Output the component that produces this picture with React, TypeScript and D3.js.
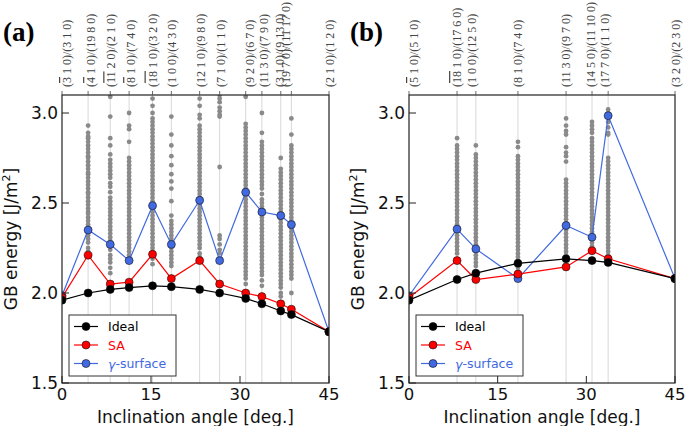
import React from "react";
import * as d3 from "d3";

// ---------- data ----------
const anglesA = [0, 4.40, 8.13, 11.31, 15.26, 18.43, 23.20, 26.57, 30.96, 33.69, 36.87, 38.66, 45];
const labelsA = [
  "({3} 1 0)/(3 1 0)", "({4} 1 0)/(19 8 0)", "({11} 2 0)/(2 1 0)", "({8} 1 0)/(7 4 0)",
  "({18} 1 0)/(3 2 0)", "(1 0 0)/(4 3 0)", "(12 1 0)/(9 8 0)", "(7 1 0)/(1 1 0)",
  "(9 2 0)/(6 7 0)", "(11 3 0)/(7 9 0)", "(3 1 0)/(9 13 0)", "(19 7 0)/(11 17 0)", "(2 1 0)/(1 2 0)",
];
const idealA = [1.96, 2.00, 2.02, 2.03, 2.04, 2.035, 2.02, 2.00, 1.97, 1.94, 1.90, 1.88, 1.785];
const saA = [1.975, 2.21, 2.05, 2.06, 2.215, 2.08, 2.18, 2.05, 2.00, 1.98, 1.94, 1.91, 1.785];
const gammaA = [1.985, 2.35, 2.27, 2.18, 2.485, 2.27, 2.515, 2.18, 2.56, 2.45, 2.43, 2.38, 1.785];

const scatterA1 = [2.93, 2.89, 2.87, 2.86, 2.84, 2.82, 2.80, 2.78, 2.76, 2.75, 2.73, 2.71, 2.69, 2.67, 2.66, 2.64, 2.62, 2.60, 2.58, 2.56, 2.55, 2.53, 2.51, 2.49, 2.47, 2.45, 2.44, 2.42, 2.40, 2.38, 2.36, 2.34, 2.32, 2.30, 2.28, 2.25, 2.23];
const scatterA2 = [3.09, 2.98, 2.86, 2.82, 2.77, 2.74, 2.72, 2.70, 2.68, 2.66, 2.64, 2.61, 2.59, 2.56, 2.53, 2.51, 2.49, 2.47, 2.45, 2.43, 2.41, 2.39, 2.37, 2.35, 2.33, 2.31, 2.29, 2.26, 2.24, 2.21, 2.19, 2.17, 2.14, 2.11];
const scatterA3 = [3.00, 2.93, 2.91, 2.84, 2.75, 2.73, 2.71, 2.69, 2.67, 2.65, 2.63, 2.61, 2.59, 2.57, 2.55, 2.53, 2.51, 2.49, 2.47, 2.45, 2.43, 2.41, 2.39, 2.37, 2.35, 2.33, 2.31, 2.29, 2.27, 2.25, 2.23, 2.21];
const scatterA4 = [3.08, 3.04, 3.00, 2.97, 2.95, 2.93, 2.91, 2.89, 2.87, 2.85, 2.83, 2.81, 2.79, 2.77, 2.75, 2.73, 2.71, 2.69, 2.67, 2.65, 2.63, 2.61, 2.59, 2.57, 2.55, 2.53, 2.51, 2.49, 2.47, 2.45, 2.43, 2.41, 2.39, 2.37, 2.35, 2.33, 2.31, 2.29, 2.27, 2.25, 2.23, 2.21, 2.19, 2.16];
const scatterA5 = [2.98, 2.88, 2.82, 2.76, 2.71, 2.66, 2.62, 2.58, 2.51, 2.43, 2.40, 2.38, 2.36, 2.34, 2.32, 2.30, 2.28, 2.25, 2.23, 2.21, 2.19, 2.17, 2.15];
const scatterA6 = [3.08, 3.04, 2.99, 2.97, 2.93, 2.91, 2.89, 2.87, 2.85, 2.83, 2.81, 2.79, 2.77, 2.75, 2.73, 2.71, 2.69, 2.67, 2.65, 2.63, 2.61, 2.59, 2.57, 2.55, 2.53, 2.51, 2.49, 2.47, 2.45, 2.43, 2.41, 2.39, 2.37, 2.35, 2.33, 2.31, 2.29, 2.27, 2.25, 2.22, 2.20];
const scatterA7 = [3.10, 3.08, 3.06, 3.03, 3.01, 2.99, 2.98, 2.70, 2.32, 2.30, 2.27, 2.24, 2.22, 2.19];
const scatterA8 = [3.09, 2.94, 2.92, 2.90, 2.88, 2.86, 2.84, 2.82, 2.80, 2.78, 2.76, 2.74, 2.72, 2.70, 2.68, 2.66, 2.64, 2.62, 2.60, 2.58, 2.56, 2.54, 2.52, 2.50, 2.48, 2.46, 2.44, 2.42, 2.40, 2.38, 2.36, 2.34, 2.32, 2.30, 2.28, 2.26, 2.24, 2.22, 2.20, 2.18, 2.16, 2.14, 2.12, 2.10, 2.08, 2.05];
const scatterA9 = [3.00, 2.89, 2.84, 2.82, 2.80, 2.78, 2.76, 2.74, 2.72, 2.70, 2.68, 2.66, 2.64, 2.62, 2.60, 2.58, 2.55, 2.52, 2.50, 2.48, 2.46, 2.44, 2.42, 2.40, 2.38, 2.36, 2.34, 2.32, 2.30, 2.28, 2.26, 2.24, 2.22, 2.20, 2.18, 2.16, 2.14, 2.12, 2.10, 2.07, 2.04];
const scatterA10 = [2.75, 2.69, 2.67, 2.65, 2.63, 2.61, 2.59, 2.57, 2.55, 2.53, 2.51, 2.49, 2.47, 2.45, 2.43, 2.41, 2.39, 2.37, 2.35, 2.33, 2.31, 2.29, 2.27, 2.25, 2.23, 2.21, 2.19, 2.17, 2.15, 2.13, 2.11, 2.09, 2.07, 2.05, 2.03, 2.00, 1.98];
const scatterA11 = [2.97, 2.88, 2.82, 2.80, 2.78, 2.76, 2.74, 2.72, 2.70, 2.68, 2.66, 2.64, 2.62, 2.60, 2.58, 2.56, 2.54, 2.52, 2.50, 2.48, 2.46, 2.44, 2.42, 2.40, 2.38, 2.36, 2.34, 2.32, 2.30, 2.28, 2.26, 2.24, 2.22, 2.20, 2.18, 2.16, 2.14, 2.12, 2.10, 2.08, 2.00];
const scatterA = [[], scatterA1, scatterA2, scatterA3, scatterA4, scatterA5, scatterA6, scatterA7, scatterA8, scatterA9, scatterA10, scatterA11, []];

const anglesB = [0, 8.13, 11.31, 18.43, 26.57, 30.96, 33.69, 45];
const labelsB = [
  "({5} 1 0)/(5 1 0)", "({18} 1 0)/(17 6 0)", "(1 0 0)/(12 5 0)", "(8 1 0)/(7 4 0)",
  "(11 3 0)/(9 7 0)", "(14 5 0)/(11 10 0)", "(17 7 0)/(1 1 0)", "(3 2 0)/(2 3 0)",
];
const idealB = [1.96, 2.075, 2.11, 2.165, 2.19, 2.18, 2.17, 2.08];
const saB = [1.975, 2.18, 2.075, 2.105, 2.145, 2.235, 2.19, 2.08];
const gammaB = [1.985, 2.355, 2.245, 2.08, 2.375, 2.31, 2.985, 2.08];

const scatterB1 = [2.86, 2.82, 2.80, 2.78, 2.76, 2.74, 2.72, 2.70, 2.68, 2.66, 2.64, 2.62, 2.60, 2.58, 2.56, 2.54, 2.52, 2.50, 2.48, 2.46, 2.44, 2.42, 2.40, 2.38, 2.36, 2.34, 2.32, 2.30, 2.28, 2.26, 2.24, 2.22, 2.19];
const scatterB2 = [2.82, 2.77, 2.75, 2.73, 2.71, 2.69, 2.67, 2.65, 2.63, 2.61, 2.59, 2.57, 2.55, 2.53, 2.51, 2.49, 2.47, 2.45, 2.43, 2.41, 2.39, 2.37, 2.35, 2.33, 2.31, 2.29, 2.27, 2.25, 2.23, 2.21, 2.19, 2.17, 2.15, 2.12];
const scatterB3 = [2.84, 2.81, 2.76, 2.74, 2.72, 2.70, 2.68, 2.66, 2.64, 2.62, 2.60, 2.58, 2.56, 2.54, 2.52, 2.50, 2.48, 2.46, 2.44, 2.42, 2.40, 2.38, 2.36, 2.34, 2.32, 2.30, 2.28, 2.26, 2.24, 2.22, 2.20, 2.18, 2.16, 2.14, 2.12, 2.10, 2.08];
const scatterB4 = [2.97, 2.93, 2.90, 2.88, 2.81, 2.78, 2.76, 2.73, 2.63, 2.61, 2.59, 2.57, 2.55, 2.53, 2.51, 2.49, 2.47, 2.45, 2.43, 2.41, 2.39, 2.37, 2.35, 2.33, 2.31, 2.29, 2.27, 2.25, 2.23, 2.21, 2.18];
const scatterB5 = [2.95, 2.93, 2.91, 2.89, 2.86, 2.84, 2.82, 2.80, 2.78, 2.76, 2.74, 2.72, 2.70, 2.68, 2.66, 2.64, 2.62, 2.60, 2.58, 2.56, 2.54, 2.52, 2.50, 2.48, 2.46, 2.44, 2.42, 2.40, 2.38, 2.36, 2.34, 2.32, 2.30, 2.28, 2.26];
const scatterB6 = [3.02, 3.00, 2.98, 2.95, 2.92, 2.89, 2.88, 2.75, 2.73, 2.71, 2.69, 2.67, 2.65, 2.63, 2.61, 2.59, 2.57, 2.55, 2.53, 2.51, 2.49, 2.47, 2.45, 2.43, 2.41, 2.39, 2.37, 2.35, 2.33, 2.31, 2.29, 2.27, 2.25, 2.23, 2.21];
const scatterB = [[], scatterB1, scatterB2, scatterB3, scatterB4, scatterB5, scatterB6, []];

const yTicks = [1.5, 2.0, 2.5, 3.0];
const xTicks = [0, 15, 30, 45];
const seriesNames = ["Ideal", "SA", "surface"];

// ---------- layout / style ----------
const W = 685, H = 426;
const TOP = 95, BOTTOM = 383;
const nudgeA = [5, 3, 1, 2, 0, 1, 1, 1, 4, 2, -1, -5, 1];
const nudgeB = [5, 0, -4, 0, 0, -1, -3, 1];
const SANS = "DejaVu Sans";
const SERIF = "Liberation Serif";
const C_IDEAL = "#000000";
const C_SA = "#ff0000";
const C_GAMMA = "#4169e1";
const C_DOT = "#8a8a8a";

function Label({ text, x, y }: { text: string; x: number; y: number }) {
  const parts = text.split(/(\{[^}]*\})/).filter((p) => p.length);
  return (
    <text
      transform={`translate(${x},${y}) rotate(-90)`}
      fontFamily={SERIF}
      fontSize={12}
      fill="#444"
      dominantBaseline="central"
    >
      {parts.map((p, i) =>
        p.startsWith("{") ? (
          <tspan key={i} style={{ textDecoration: "overline" }}>{p.slice(1, -1)}</tspan>
        ) : (
          <tspan key={i} style={{ whiteSpace: "pre" }}>{p}</tspan>
        )
      )}
    </text>
  );
}

function Panel(props: {
  id: string; x0: number; x1: number; tag: string;
  angles: number[]; labels: string[]; nudges: number[];
  ideal: number[]; sa: number[]; gamma: number[]; scatter: number[][];
}) {
  const { id, x0, x1, tag, angles, labels, nudges, ideal, sa, gamma, scatter } = props;
  const x = d3.scaleLinear().domain([0, 45]).range([x0, x1]);
  const y = d3.scaleLinear().domain([1.5, 3.1]).range([BOTTOM, TOP]);
  const line = d3.line<number>().x((_, i) => x(angles[i])).y((d) => y(d));
  const series = [
    { vals: gamma, color: C_GAMMA },
    { vals: sa, color: C_SA },
    { vals: ideal, color: C_IDEAL },
  ];
  const legX = x0 + 7, legY = TOP + 220;
  const legendItems = [
    { name: seriesNames[0], color: C_IDEAL },
    { name: seriesNames[1], color: C_SA },
    { name: seriesNames[2], color: C_GAMMA },
  ];
  const cx = (x0 + x1) / 2;
  return (
    <g>
      <defs>
        <clipPath id={`clip-${id}`}>
          <rect x={x0} y={TOP} width={x1 - x0} height={BOTTOM - TOP} />
        </clipPath>
      </defs>
      {angles.map((a, i) =>
        i > 0 && i < angles.length - 1 ? (
          <line key={`g${i}`} x1={x(a)} x2={x(a)} y1={TOP} y2={BOTTOM} stroke="#d8d8d8" strokeWidth={1} />
        ) : null
      )}
      <g clipPath={`url(#clip-${id})`}>
        {scatter.map((col, i) =>
          col.map((v, j) => <circle key={`s${i}-${j}`} cx={x(angles[i])} cy={y(v)} r={2.4} fill={C_DOT} />)
        )}
        {series.map((s, k) => (
          <g key={`l${k}`}>
            <path d={line(s.vals) || ""} fill="none" stroke={s.color} strokeWidth={1.2} />
            {s.vals.map((v, i) => (
              <circle key={i} cx={x(angles[i])} cy={y(v)} r={4} fill={s.color} stroke="#111" strokeWidth={0.6} />
            ))}
          </g>
        ))}
      </g>
      <rect x={x0} y={TOP} width={x1 - x0} height={BOTTOM - TOP} fill="none" stroke="#222" strokeWidth={1.2} />
      {yTicks.map((t) => (
        <g key={`yt${t}`}>
          <line x1={x0} x2={x0 + 7} y1={y(t)} y2={y(t)} stroke="#222" strokeWidth={1} />
          <text x={x0 - 4} y={y(t)} textAnchor="end" dominantBaseline="central" fontFamily={SANS} fontSize={17} fill="#111">
            {t.toFixed(1)}
          </text>
        </g>
      ))}
      {xTicks.map((t) => (
        <g key={`xt${t}`}>
          <line x1={x(t)} x2={x(t)} y1={BOTTOM} y2={BOTTOM - 7} stroke="#222" strokeWidth={1} />
          <text x={x(t)} y={BOTTOM + 17} textAnchor="middle" fontFamily={SANS} fontSize={16.5} fill="#111">
            {t}
          </text>
        </g>
      ))}
      {angles.map((a, i) => (
        <g key={`tl${i}`}>
          <line x1={x(a)} x2={x(a)} y1={TOP} y2={TOP - 4} stroke="#444" strokeWidth={0.8} />
          <Label text={labels[i]} x={x(a) + nudges[i]} y={TOP - 8} />
        </g>
      ))}
      <text x={cx} y={BOTTOM + 40} textAnchor="middle" fontFamily={SANS} fontSize={17} fill="#111">
        Inclination angle [deg.]
      </text>
      <text transform={`translate(${x0 - 45},${(TOP + BOTTOM) / 2}) rotate(-90)`} textAnchor="middle" fontFamily={SANS} fontSize={17} fill="#111">
        GB energy [J/m<tspan dy={-7} fontSize={11}>2</tspan><tspan dy={7}>]</tspan>
      </text>
      <text x={x0 - 59} y={41} fontFamily={SERIF} fontWeight="bold" fontSize={27} fill="#000">
        {tag}
      </text>
      <rect x={legX} y={legY} width={107} height={61} fill="#fff" stroke="#333" strokeWidth={1} />
      {legendItems.map((it, i) => {
        const ly = legY + 11.5 + i * 18.5;
        return (
          <g key={`lg${i}`}>
            <line x1={legX + 5} x2={legX + 29} y1={ly} y2={ly} stroke={it.color} strokeWidth={1.2} />
            <circle cx={legX + 17} cy={ly} r={4} fill={it.color} stroke="#111" strokeWidth={0.6} />
            <text x={legX + 39} y={ly} dominantBaseline="central" fontFamily={SANS} fontSize={12.5} fill={it.color}>
              {i === 2 ? (
                <>
                  <tspan fontStyle="italic">γ</tspan>-{it.name}
                </>
              ) : (
                it.name
              )}
            </text>
          </g>
        );
      })}
    </g>
  );
}

export default function App() {
  return (
    <svg width={W} height={H} viewBox={`0 0 ${W} ${H}`} style={{ position: "absolute", left: 0, top: 0, background: "#fff" }}>
      <rect width={W} height={H} fill="#fff" />
      <Panel id="a" x0={62} x1={329} tag="(a)" angles={anglesA} labels={labelsA} nudges={nudgeA}
        ideal={idealA} sa={saA} gamma={gammaA} scatter={scatterA} />
      <Panel id="b" x0={409} x1={675} tag="(b)" angles={anglesB} labels={labelsB} nudges={nudgeB}
        ideal={idealB} sa={saB} gamma={gammaB} scatter={scatterB} />
    </svg>
  );
}
